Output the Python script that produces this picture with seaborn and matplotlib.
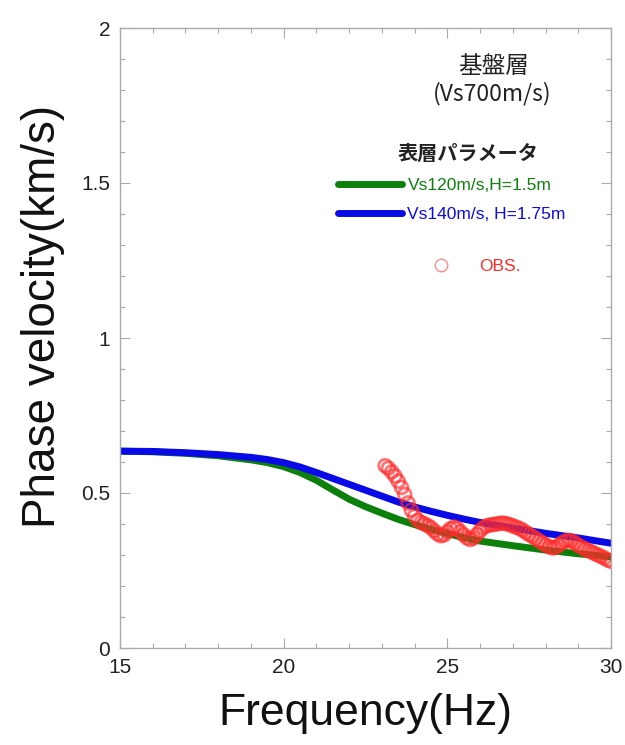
import matplotlib
matplotlib.use("Agg")
import matplotlib.pyplot as plt
import seaborn as sns
import pandas as pd
from matplotlib.ticker import MultipleLocator, FormatStrFormatter
from matplotlib.lines import Line2D

# theoretical dispersion curves
model_freq = [15, 16, 17, 18, 19, 19.5, 20, 20.5, 21, 21.5, 22, 22.5, 23, 23.5,
              24, 24.5, 25, 25.5, 26, 27, 28, 29, 30]
vel_120 = [0.635, 0.633, 0.628, 0.620, 0.607, 0.598, 0.585, 0.566, 0.541, 0.510,
           0.480, 0.456, 0.435, 0.415, 0.398, 0.383, 0.369, 0.356, 0.345, 0.330,
           0.316, 0.304, 0.294]
vel_140 = [0.635, 0.634, 0.630, 0.624, 0.615, 0.608, 0.598, 0.584, 0.566, 0.547,
           0.528, 0.509, 0.490, 0.471, 0.455, 0.441, 0.428, 0.416, 0.405, 0.387,
           0.370, 0.355, 0.338]
model_labels = ["Vs120m/s,H=1.5m", "Vs140m/s, H=1.75m"]

# observed phase velocity
obs_freq = [23.1, 23.2, 23.3, 23.4, 23.5, 23.6, 23.7, 23.8, 23.9, 24.0,
            24.1, 24.2, 24.3, 24.4, 24.5, 24.6, 24.7, 24.8, 24.9, 25.0,
            25.1, 25.2, 25.3, 25.4, 25.5, 25.6, 25.7, 25.8, 25.9, 26.0,
            26.1, 26.2, 26.3, 26.4, 26.5, 26.6, 26.7, 26.8, 26.9, 27.0,
            27.1, 27.2, 27.3, 27.4, 27.5, 27.6, 27.7, 27.8, 27.9, 28.0,
            28.1, 28.2, 28.3, 28.4, 28.5, 28.6, 28.7, 28.8, 28.9, 29.0,
            29.1, 29.2, 29.3, 29.4, 29.5, 29.6, 29.7, 29.8, 29.9, 30.0]
obs_vel = [0.588, 0.580, 0.568, 0.555, 0.538, 0.518, 0.495, 0.468, 0.445, 0.425,
           0.412, 0.405, 0.400, 0.395, 0.388, 0.378, 0.368, 0.362, 0.365, 0.375,
           0.385, 0.390, 0.386, 0.375, 0.365, 0.355, 0.350, 0.355, 0.366, 0.378,
           0.388, 0.394, 0.397, 0.398, 0.400, 0.402, 0.403, 0.401, 0.398, 0.394,
           0.390, 0.386, 0.380, 0.373, 0.366, 0.360, 0.353, 0.346, 0.339, 0.333,
           0.327, 0.323, 0.324, 0.331, 0.339, 0.345, 0.347, 0.345, 0.339, 0.331,
           0.325, 0.320, 0.315, 0.310, 0.305, 0.300, 0.295, 0.290, 0.284, 0.280]

green = "#0b800b"
blue = "#0a0ae6"
red = "#ff2a2a"

sns.set_style("ticks")
plt.rcParams["font.family"] = ["Liberation Sans", "Noto Sans CJK JP", "DejaVu Sans"]

df = pd.DataFrame({
    "freq": model_freq * 2,
    "vel": vel_120 + vel_140,
    "model": [model_labels[0]] * len(model_freq) + [model_labels[1]] * len(model_freq),
})

fig = plt.figure(figsize=(6.25, 7.45), dpi=100)
ax = fig.add_axes([120 / 625, 97 / 745, 491 / 625, 620 / 745])

sns.lineplot(data=df, x="freq", y="vel", hue="model", hue_order=model_labels,
             palette=[green, blue], linewidth=5, legend=False, ax=ax)
sns.scatterplot(x=obs_freq, y=obs_vel, marker="o", s=85, facecolor="none",
                edgecolor=red, linewidth=2, alpha=0.65, ax=ax, zorder=3)

ax.set_xlim(15, 30)
ax.set_ylim(0, 2)
ax.xaxis.set_major_locator(MultipleLocator(5))
ax.xaxis.set_minor_locator(MultipleLocator(1))
ax.yaxis.set_major_locator(MultipleLocator(0.5))
ax.yaxis.set_minor_locator(MultipleLocator(0.1))
ax.yaxis.set_major_formatter(FormatStrFormatter("%g"))

for s in ax.spines.values():
    s.set_visible(True)
    s.set_color("#aaaaaa")
    s.set_linewidth(1)
ax.tick_params(which="both", direction="in", top=True, right=True,
               color="#aaaaaa", width=0.8, labelsize=15, labelcolor="#222222", pad=7)
ax.tick_params(which="major", length=7)
ax.tick_params(which="minor", length=3.5)

ax.set_xlabel("Frequency(Hz)", fontsize=32, color="#111111")
ax.set_ylabel("Phase velocity(km/s)", fontsize=33, color="#111111")
ax.xaxis.set_label_coords(0.5, -0.072)
ax.yaxis.set_label_coords(-0.112, 0.534)

ax.text(0.760, 0.9376, "基盤層", transform=ax.transAxes, ha="center", va="center",
        fontsize=17, family="Noto Sans CJK JP", color="#222222")
ax.text(0.758, 0.895, "(Vs700m/s)", transform=ax.transAxes, ha="center", va="center",
        fontsize=16.5, family="Noto Sans CJK JP", color="#222222")
ax.text(0.709, 0.798, "表層パラメータ", transform=ax.transAxes, ha="center", va="center",
        fontsize=14.5, family="Noto Sans CJK JP", weight="bold", color="#222222")

h1 = Line2D([], [], color=green, lw=5)
h2 = Line2D([], [], color=blue, lw=5)
leg1 = ax.legend([h1, h2], model_labels, loc="center left", bbox_to_anchor=(0.444, 0.7226),
                 frameon=False, fontsize=12.5, handlelength=3.7, handletextpad=0.3,
                 labelspacing=0.84, borderpad=0, borderaxespad=0, labelcolor=[green, blue])
ax.add_artist(leg1)
h3 = Line2D([], [], ls="none", marker="o", mfc="none", mec=red, ms=9, alpha=0.55)
ax.legend([h3], ["OBS."], loc="center left", bbox_to_anchor=(0.618, 0.615),
          frameon=False, fontsize=12.5, handlelength=2, handletextpad=1.18,
          borderpad=0, borderaxespad=0, labelcolor=[red])

plt.savefig("out.png", dpi=100)
plt.close()
